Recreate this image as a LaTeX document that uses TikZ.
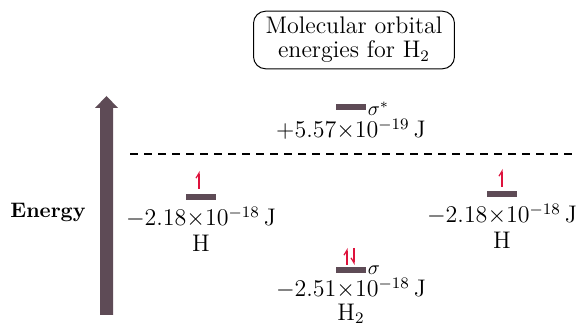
\documentclass[tikz,border=0pt]{standalone}
\usepackage{amsmath}
\usetikzlibrary{arrows.meta,positioning}

\definecolor{levelcol}{RGB}{94,75,86}
\definecolor{spincol}{RGB}{222,18,60}

\begin{document}
\begin{tikzpicture}[x=0.5pt, y=-0.5pt,
  node distance=1mm,
  level/.style={fill=levelcol, minimum width=15pt, minimum height=3pt, inner sep=0pt},
  val/.style={font=\large, inner sep=1pt},
  orb/.style={inner sep=0.5pt, anchor=west},
  spinup/.style={draw=spincol, line width=0.6pt, -{Straight Barb[left, length=2.5pt, width=3pt]}},
  spindn/.style={draw=spincol, line width=0.6pt, -{Straight Barb[right, length=2.5pt, width=3pt]}}]
\useasboundingbox (0,0) rectangle (577,335);
% title
\node[draw, rounded corners=6pt, align=center, inner xsep=6pt, inner ysep=3pt,
      line width=0.5pt, font=\large] (title) at (354,40) {Molecular orbital\\[-2pt]energies for H$_2$};
% energy axis
\fill[levelcol] (100,315) -- (113,315) -- (113,108) -- (118,108) -- (106.5,96) -- (95,108) -- (100,108) -- cycle;
\node[font=\bfseries\fontsize{10.5}{12}\selectfont] (energy) at (48,212) {Energy};
\coordinate (dl) at (130,154);
\coordinate (dr) at (572,154);
\draw[dash pattern=on 4pt off 3pt, line width=0.6pt] (dl) -- (dr);
% levels
\node[level] (sigstar) at (351,107) {};
\node[level] (hleft) at (201,197) {};
\node[level] (hright) at (502,194) {};
\node[level] (sig) at (351,270) {};
% labels
\node[orb] (ss) at ([yshift=-1pt]sigstar.east) {$\sigma^*$};
\node[orb] (s) at (sig.east) {$\sigma$};
\node[val, below=3pt of sigstar] (e1) {$+5.57{\times}10^{-19}$\,J};
\node[val, below=2pt of hleft] (e2) {$-2.18{\times}10^{-18}$\,J};
\node[val, below=2pt of hright] (e3) {$-2.18{\times}10^{-18}$\,J};
\node[val, below=1pt of sig] (e4) {$-2.51{\times}10^{-18}$\,J};
\node[val, below=1pt of e2] (h1) {H};
\node[val, below=1pt of e3] (h2) {H};
\node[val, below=0pt of e4] (h3) {H$_2$};
% electrons
\coordinate (a1) at (199,189); \coordinate (b1) at (199,171);
\coordinate (a2) at (502,187); \coordinate (b2) at (502,169);
\coordinate (a3) at (347,265); \coordinate (b3) at (347,248);
\coordinate (a4) at (354,248); \coordinate (b4) at (354,265);
\draw[spinup] (a1) -- (b1);
\draw[spinup] (a2) -- (b2);
\draw[spinup] (a3) -- (b3);
\draw[spindn] (a4) -- (b4);
\end{tikzpicture}
\end{document}
